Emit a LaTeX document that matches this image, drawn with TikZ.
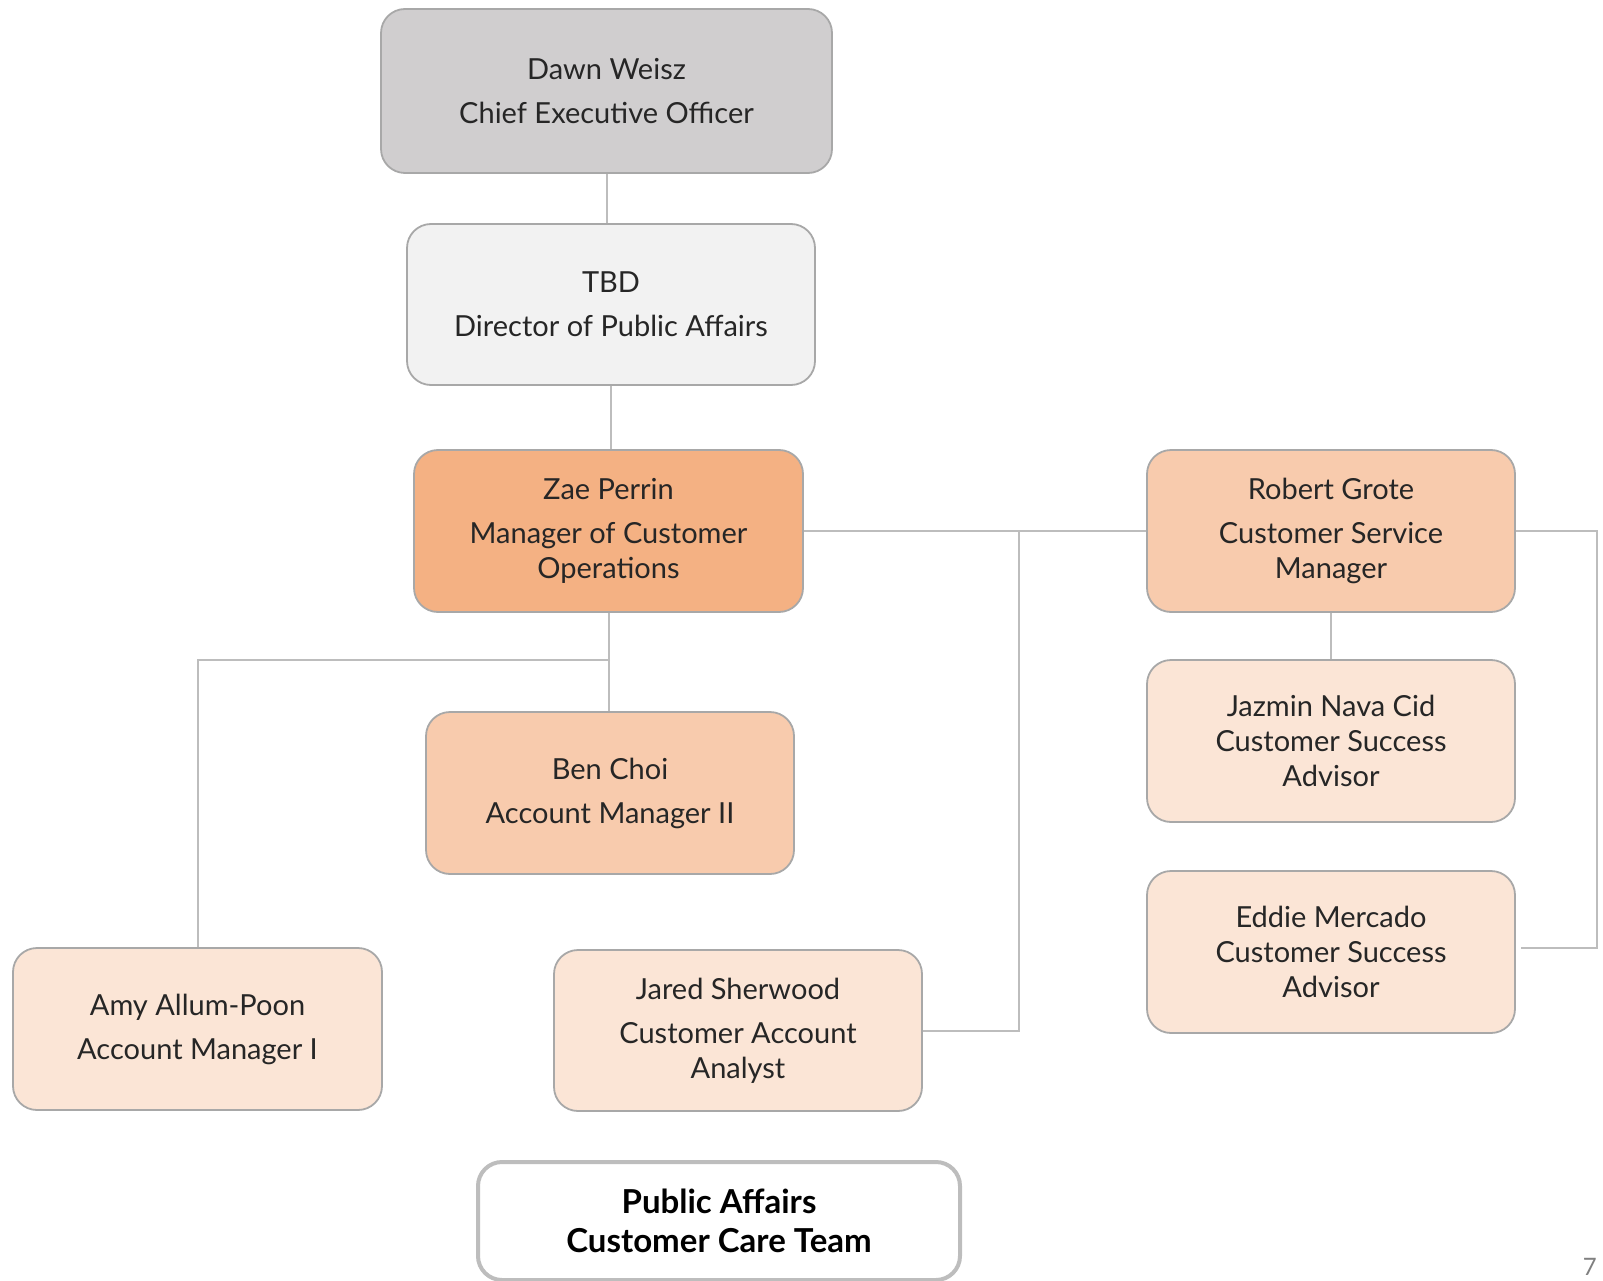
\documentclass[tikz,border=0pt]{standalone}
\usepackage{fontspec}
\setmainfont{Lato}
\definecolor{ceofill}{HTML}{D0CECF}
\definecolor{dirfill}{HTML}{F2F2F2}
\definecolor{mgrfill}{HTML}{F4B183}
\definecolor{midfill}{HTML}{F8CBAD}
\definecolor{lowfill}{HTML}{FBE5D6}
\definecolor{boxline}{HTML}{A8A8A8}
\definecolor{wire}{HTML}{BDBDBD}
\definecolor{ink}{HTML}{262626}
\begin{document}
\begin{tikzpicture}[x=1pt,y=-1pt,
  box/.style={draw=boxline, line width=1.8pt, rounded corners=24pt, align=center,
    text=ink, inner sep=0pt, minimum width=368pt, minimum height=162pt,
    font=\fontsize{29}{35}\selectfont},
  link/.style={draw=wire, line width=2pt}]
\useasboundingbox (0,0) rectangle (1603,1281);

% people
\node[box, fill=ceofill, minimum width=451pt, minimum height=164pt] (ceo) at (606.5,91)
  {Dawn Weisz\\[9pt]Chief Executive Officer};
\node[box, fill=dirfill, minimum width=408pt, minimum height=161pt] (dir) at (611,304.5)
  {TBD\\[9pt]Director of Public Affairs};
\node[box, fill=mgrfill, minimum width=389pt] (zae) at (608.5,531)
  {Zae Perrin\\[9pt]Manager of Customer\\Operations};
\node[box, fill=midfill] (robert) at (1331,531)
  {Robert Grote\\[9pt]Customer Service\\Manager};
\node[box, fill=lowfill] (jazmin) at (1331,741)
  {Jazmin Nava Cid\\Customer Success\\Advisor};
\node[box, fill=lowfill] (eddie) at (1331,952)
  {Eddie Mercado\\Customer Success\\Advisor};
\node[box, fill=midfill] (ben) at (610,793)
  {Ben Choi\\[9pt]Account Manager II};
\node[box, fill=lowfill, minimum width=369pt] (amy) at (197.5,1029)
  {Amy Allum-Poon\\[9pt]Account Manager I};
\node[box, fill=lowfill, minimum height=161pt] (jared) at (738,1030.5)
  {Jared Sherwood\\[9pt]Customer Account\\Analyst};

% team caption
\node[draw=wire, line width=4pt, rounded corners=24pt, fill=white, text=black,
  minimum width=482pt, minimum height=118pt, align=center,
  font=\fontsize{33}{39}\selectfont\bfseries] (team) at (719,1221)
  {Public Affairs\\Customer Care Team};

% page number
\node[text=gray, font=\fontsize{24}{28}\selectfont, anchor=south east, inner sep=0pt]
  (pageno) at (1597,1276) {7};

% reporting lines
\draw[link] (ceo.south) -- (ceo.south |- dir.north);
\draw[link] (dir.south) -- (dir.south |- zae.north);
\draw[link] (zae.south) -- (zae.south |- ben.north);
\coordinate (split) at (610,660);
\draw[link] (split) -| (amy.north);
\draw[link] (zae.east) -- (robert.west);
\coordinate (trunk) at (1019,531);
\draw[link] (trunk) |- (jared.east);
\draw[link] (robert.south) -- (jazmin.north);
\coordinate (rbend) at (1597,948);
\draw[link] (robert.east) -| (rbend) -- ([xshift=5pt,yshift=4pt]eddie.east);
\end{tikzpicture}
\end{document}
